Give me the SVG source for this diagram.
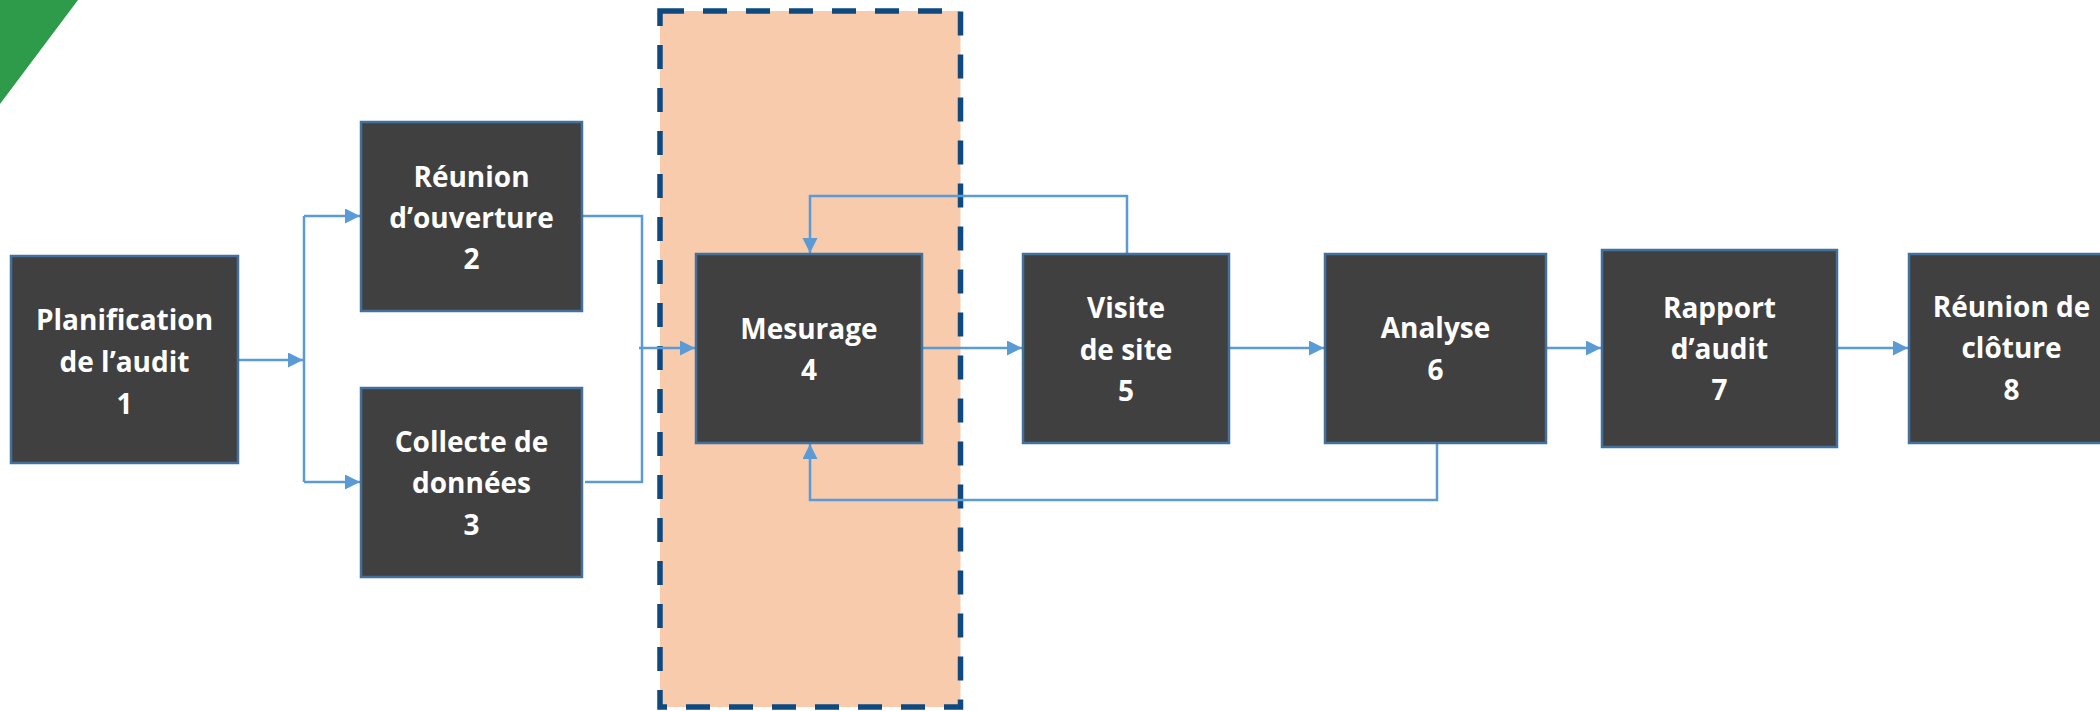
<svg xmlns="http://www.w3.org/2000/svg" width="2100" height="711" viewBox="0 0 2100 711">
  <defs>
    <style>
      .box { fill: #404040; stroke: #41719C; stroke-width: 2.5; }
      .lbl { fill: #FFFFFF; font-family: "Open Sans", "Liberation Sans", sans-serif; font-weight: 700; font-size: 28px; text-anchor: middle; }
      .wire { fill: none; stroke: #5B9BD5; stroke-width: 2.5; }
      .arrow { marker-end: url(#head); }
    </style>
    <marker id="head" markerUnits="userSpaceOnUse" markerWidth="16" markerHeight="16" refX="15" refY="7.5" orient="auto">
      <path d="M0,0 L15,7.5 L0,15 Z" fill="#5B9BD5"/>
    </marker>
  </defs>

  <rect x="0" y="0" width="2100" height="711" fill="#FFFFFF"/>

  <!-- corner accent -->
  <polygon points="0,0 78,0 0,104" fill="#2E9B4B"/>

  <!-- highlighted measurement zone -->
  <rect id="zone" x="660" y="11" width="300.5" height="696" fill="#F8CBAD" stroke="#0E4A80" stroke-width="5.5" stroke-dasharray="24 19"/>

  <!-- connectors -->
  <g id="connectors">
    <path class="wire arrow" d="M238,360 H303"/>
    <path class="wire" d="M304,216 V482"/>
    <path class="wire arrow" d="M304,216 H360"/>
    <path class="wire arrow" d="M304,482 H360"/>
    <path class="wire" d="M583,216 H642 V482 H585"/>
    <path class="wire arrow" d="M639,348 H695"/>
    <path class="wire arrow" d="M922,348 H1022"/>
    <path class="wire arrow" d="M1229,348 H1324"/>
    <path class="wire arrow" d="M1546,348 H1601"/>
    <path class="wire arrow" d="M1837,348 H1908"/>
    <path class="wire arrow" d="M1127,254 V196 H810 V253"/>
    <path class="wire arrow" d="M1437,443 V500 H810 V444"/>
  </g>

  <!-- steps -->
  <g id="step1">
    <rect class="box" x="11" y="256" width="227" height="207"/>
    <text class="lbl" x="124.5" y="330">Planification</text>
    <text class="lbl" x="124.5" y="372">de l’audit</text>
    <text class="lbl" x="124.5" y="414">1</text>
  </g>
  <g id="step2">
    <rect class="box" x="361" y="122" width="221" height="189"/>
    <text class="lbl" x="471.5" y="187">Réunion</text>
    <text class="lbl" x="471.5" y="228">d’ouverture</text>
    <text class="lbl" x="471.5" y="269">2</text>
  </g>
  <g id="step3">
    <rect class="box" x="361" y="388" width="221" height="189"/>
    <text class="lbl" x="471.5" y="452">Collecte de</text>
    <text class="lbl" x="471.5" y="493">données</text>
    <text class="lbl" x="471.5" y="535">3</text>
  </g>
  <g id="step4">
    <rect class="box" x="696" y="254" width="226" height="189"/>
    <text class="lbl" x="809" y="339">Mesurage</text>
    <text class="lbl" x="809" y="380">4</text>
  </g>
  <g id="step5">
    <rect class="box" x="1023" y="254" width="206" height="189"/>
    <text class="lbl" x="1126" y="318">Visite</text>
    <text class="lbl" x="1126" y="360">de site</text>
    <text class="lbl" x="1126" y="401">5</text>
  </g>
  <g id="step6">
    <rect class="box" x="1325" y="254" width="221" height="189"/>
    <text class="lbl" x="1435.5" y="338">Analyse</text>
    <text class="lbl" x="1435.5" y="380">6</text>
  </g>
  <g id="step7">
    <rect class="box" x="1602" y="250" width="235" height="197"/>
    <text class="lbl" x="1719.5" y="318">Rapport</text>
    <text class="lbl" x="1719.5" y="359">d’audit</text>
    <text class="lbl" x="1719.5" y="400">7</text>
  </g>
  <g id="step8">
    <rect class="box" x="1909" y="254" width="205" height="189"/>
    <text class="lbl" x="2011.5" y="317">Réunion de</text>
    <text class="lbl" x="2011.5" y="358">clôture</text>
    <text class="lbl" x="2011.5" y="400">8</text>
  </g>
</svg>
